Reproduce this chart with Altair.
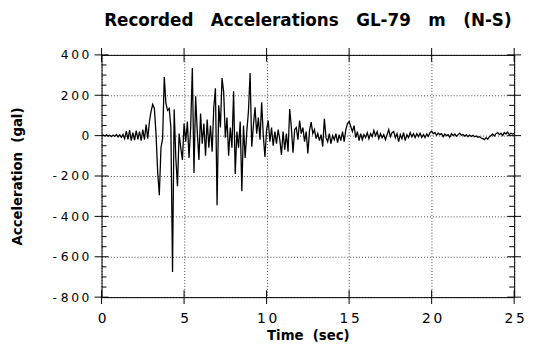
import altair as alt
import pandas as pd

acc_00_05 = [0, 3, -2, 4, -3, 2, -5, 3, -4, 5,
             -6, 4, -8, 6, -15, 22, -18, 28, -25, 15,
             -22, 25, -18, 20, -25, 30, -20, 55, -15, 70,
             120, 155, 135, 10, -180, -295, -60, -15, 290, 160,
             125, 135, 40, -675, 130, -110, -250, 10, -60, -120]
acc_05_10 = [60, -30, 70, -110, 40, 335, -185, 195, 20, -120,
             110, -40, 60, -100, 80, -60, 50, -80, 140, 235,
             -345, 150, 40, 285, 215, -10, 90, -100, 40, -60,
             220, -190, 20, -60, 70, -275, 50, -110, 20, 120,
             310, -55, 50, 140, 10, 90, -20, 165, 0, -105]
acc_10_15 = [30, 75, -30, 40, -50, 20, -40, 30, -20, -95,
             20, -70, 10, -80, 132, 40, -85, 30, 40, -20,
             75, 10, 40, -30, 20, -88, 25, 67, 10, 30,
             -15, 10, -25, 5, -55, 83, -10, -30, 10, -40,
             0, -20, 10, -35, 5, -25, 20, -30, 30, 60]
acc_15_20 = [70, 45, 20, 50, -10, 20, -25, 10, -20, 5,
             -10, 15, -15, 10, -5, 25, 0, 20, -15, 10,
             -10, 5, -20, 5, 30, -5, 15, 20, -10, 10,
             -30, 5, -15, 15, -25, 5, -10, 15, -5, 10,
             -10, 10, -5, 12, -8, 5, -10, 8, -3, 15]
acc_20_25 = [22, 10, 15, 2, 12, 5, 10, -5, 8, 0,
             5, -8, 10, 0, 8, -3, 5, 12, 2, 6,
             -2, 4, -5, 3, -4, 2, -6, -2, -8, -5,
             -12, -15, -20, -10, -18, -5, 0, 8, -2, 10,
             15, 5, 12, 0, 15, 8, 18, 5, 12, 8, 10]

acc = acc_00_05 + acc_05_10 + acc_10_15 + acc_15_20 + acc_20_25
dt = 0.1
time_s = [round(i * dt, 1) for i in range(len(acc))]

y_major = [-800, -600, -400, -200, 0, 200, 400]
y_minor = [-750, -700, -650, -550, -500, -450, -350, -300, -250,
           -150, -100, -50, 50, 100, 150, 250, 300, 350]
x_major = [0, 5, 10, 15, 20, 25]

NB = "\u00a0"
THIN = "\u2009"
title_text = (NB * 3).join(["Recorded", "Accelerations", "GL-79", "m", "(N-S)"])
x_title = "Time" + NB * 2 + "(sec)"
y_title = "Acceleration" + NB * 2 + "(gal)"


def spaced_label(v):
    s = THIN.join(str(abs(v)))
    return ("-" + NB + s) if v < 0 else s


def label_expr(values):
    expr = "datum.label"
    for v in values:
        expr = "datum.value == %d ? '%s' : (%s)" % (v, spaced_label(v), expr)
    return expr


W, H = 419, 246
FONT = "DejaVu Sans"

xs = alt.Scale(domain=[0, 25], nice=False, zero=False)
ys = alt.Scale(domain=[-800, 400], nice=False, zero=False)

axis_common = dict(grid=True, gridColor="black", gridDash=[1, 2], gridOpacity=0.75,
                   ticks=False, tickSize=0, domain=False,
                   labelFlush=False, labelOverlap=False,
                   labelColor="black", labelFont=FONT, titleFont=FONT,
                   titleColor="black", titleFontWeight="bold", titleFontSize=13.5)

trace = alt.Chart(pd.DataFrame({"t": time_s, "a": acc})).mark_line(
    color="black", strokeWidth=1.3, clip=True
).encode(
    x=alt.X("t:Q", scale=xs, axis=alt.Axis(
        values=x_major, title=x_title, labelExpr=label_expr(x_major),
        labelFontSize=14, labelPadding=15, titleY=43,
        titleBaseline="alphabetic", **axis_common)),
    y=alt.Y("a:Q", scale=ys, axis=alt.Axis(
        values=y_major, title=y_title, labelExpr=label_expr(y_major),
        labelFontSize=12.5, labelPadding=13, titleX=-81, titleY=123,
        titleBaseline="alphabetic", **axis_common)),
)

ymaj = pd.DataFrame({"a": y_major})
ymin = pd.DataFrame({"a": y_minor})
xmaj = pd.DataFrame({"t": x_major})


def yrule(df, x0, x1):
    return alt.Chart(df).mark_rule(color="black", strokeWidth=1).encode(
        y=alt.Y("a:Q", scale=ys), x=alt.value(x0), x2=alt.value(x1))


def xrule(df, y0, y1):
    return alt.Chart(df).mark_rule(color="black", strokeWidth=1).encode(
        x=alt.X("t:Q", scale=xs), y=alt.value(y0), y2=alt.value(y1))


chart = alt.layer(
    trace,
    yrule(ymaj, -7, 7),
    yrule(ymaj, W - 7, W + 7),
    yrule(ymin, 0, 5),
    yrule(ymin, W - 5, W),
    xrule(xmaj, -7, 7),
    xrule(xmaj, H - 7, H + 7),
).properties(
    width=W,
    height=H,
    title=alt.Title(text=title_text, font=FONT, fontSize=17, fontWeight="bold",
                    anchor="middle", frame="group", baseline="alphabetic",
                    offset=5, color="black"),
    autosize=alt.AutoSizeParams(type="none"),
    padding={"left": 95, "top": 45, "right": 11, "bottom": 47},
).configure(
    font=FONT, background="white"
).configure_view(
    stroke="black", strokeWidth=1
)

chart.save("out.html", embed_options={"renderer": "svg", "actions": False})
